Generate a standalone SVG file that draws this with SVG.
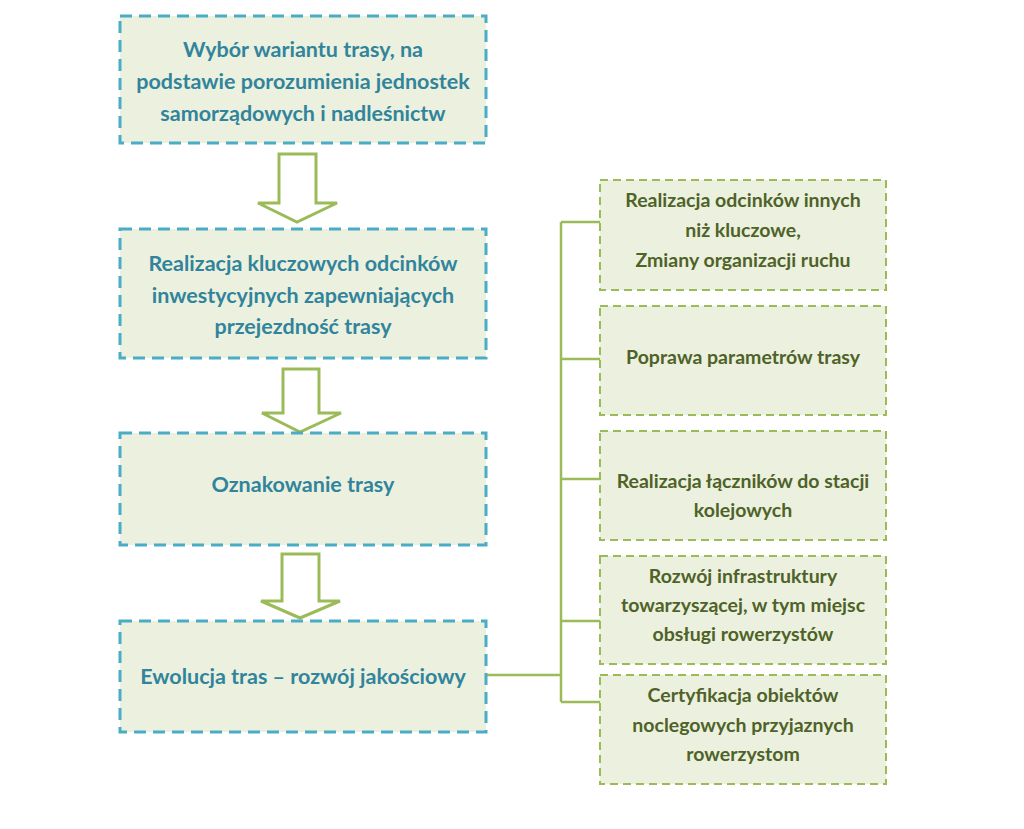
<svg xmlns="http://www.w3.org/2000/svg" width="1024" height="829" viewBox="0 0 1024 829">
<style>
.bg{fill:#ffffff}
.lbox{fill:#EBF1DE;stroke:#4BACC6;stroke-width:3;stroke-dasharray:12 7}
.rbox{fill:#EBF1DE;stroke:#9BBB59;stroke-width:2;stroke-dasharray:8 5}
.lt{font-family:Lato,"Open Sans","Liberation Sans",sans-serif;font-weight:bold;font-size:21.5px;fill:#31849B;text-anchor:middle}
.rt{font-family:Lato,"Open Sans","Liberation Sans",sans-serif;font-weight:bold;font-size:19.5px;fill:#4F6228;text-anchor:middle}
.arrow{fill:#ffffff;stroke:#9BBB59;stroke-width:3;stroke-linejoin:miter}
.conn{fill:none;stroke:#9BBB59;stroke-width:2.5}
</style>
<rect class="bg" x="0" y="0" width="1024" height="829"/>
<g id="connectors">
<polygon class="arrow" points="279,154 316,154 316,203 337,203 297,222 258,203 279,203"/>
<polygon class="arrow" points="283,369 319,369 319,413 341,413 300,432 262,413 283,413"/>
<polygon class="arrow" points="282,554 319,554 319,601 340,601 300,618 261,601 282,601"/>
<path class="conn" d="M486,675 H561 M561,222 V702 M561,222 H600 M561,359 H600 M561,479 H600 M561,621 H600 M561,702 H600"/>
</g>
<g id="n1">
<rect class="lbox" x="120" y="16" width="366" height="127"/>
<text class="lt" x="303" y="57">Wybór wariantu trasy, na</text>
<text class="lt" x="303" y="89">podstawie porozumienia jednostek</text>
<text class="lt" x="303" y="121">samorządowych i nadleśnictw</text>
</g>
<g id="n2">
<rect class="lbox" x="120" y="229" width="366" height="129"/>
<text class="lt" x="303" y="271">Realizacja kluczowych odcinków</text>
<text class="lt" x="303" y="303">inwestycyjnych zapewniających</text>
<text class="lt" x="303" y="334">przejezdność trasy</text>
</g>
<g id="n3">
<rect class="lbox" x="120" y="433" width="366" height="112"/>
<text class="lt" x="303" y="492">Oznakowanie trasy</text>
</g>
<g id="n4">
<rect class="lbox" x="120" y="621" width="366" height="111"/>
<text class="lt" x="303" y="684">Ewolucja tras – rozwój jakościowy</text>
</g>
<g id="r1">
<rect class="rbox" x="600" y="180" width="286" height="110"/>
<text class="rt" x="743" y="207">Realizacja odcinków innych</text>
<text class="rt" x="743" y="237">niż kluczowe,</text>
<text class="rt" x="743" y="267">Zmiany organizacji ruchu</text>
</g>
<g id="r2">
<rect class="rbox" x="600" y="306" width="286" height="109"/>
<text class="rt" x="743" y="364">Poprawa parametrów trasy</text>
</g>
<g id="r3">
<rect class="rbox" x="600" y="431" width="286" height="109"/>
<text class="rt" x="743" y="488">Realizacja łączników do stacji</text>
<text class="rt" x="743" y="517">kolejowych</text>
</g>
<g id="r4">
<rect class="rbox" x="600" y="556" width="286" height="108"/>
<text class="rt" x="743" y="583">Rozwój infrastruktury</text>
<text class="rt" x="743" y="612">towarzyszącej, w tym miejsc</text>
<text class="rt" x="743" y="641">obsługi rowerzystów</text>
</g>
<g id="r5">
<rect class="rbox" x="600" y="675" width="286" height="109"/>
<text class="rt" x="743" y="702">Certyfikacja obiektów</text>
<text class="rt" x="743" y="732">noclegowych przyjaznych</text>
<text class="rt" x="743" y="761">rowerzystom</text>
</g>
</svg>
